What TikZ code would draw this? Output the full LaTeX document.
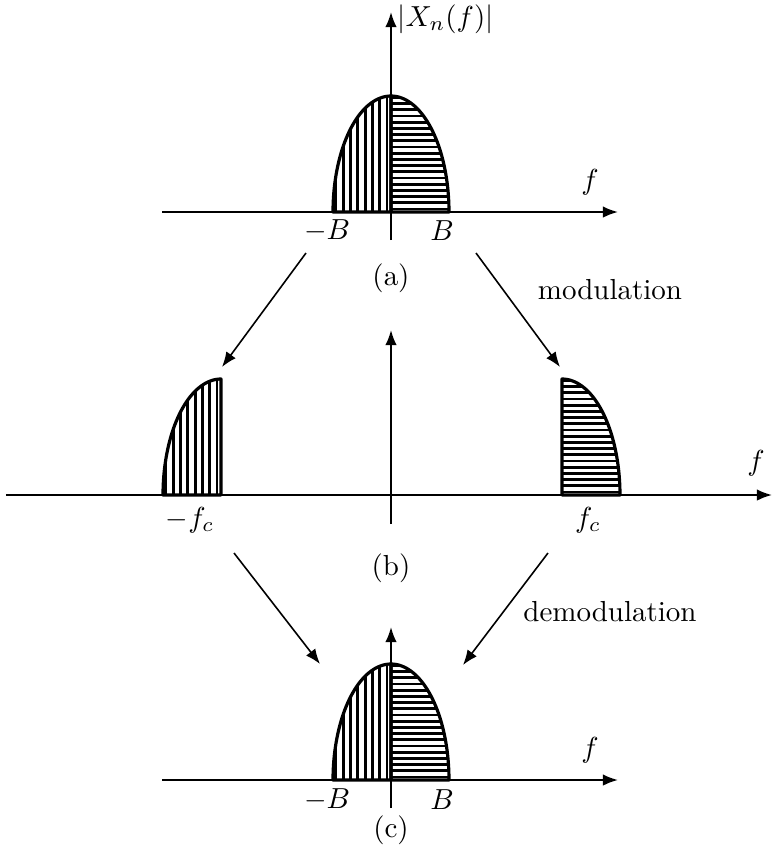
\documentclass[tikz,border=0pt]{standalone}
\usetikzlibrary{arrows.meta}
\newcommand\myLeftHalf[2]{% #1 = centre x, #2 = base y
  \begin{scope}
    \clip (#1-58,#2) -- plot[domain=180:90,samples=40] ({#1+58*cos(\x)},{#2-116*sin(\x)}) -- (#1,#2) -- cycle;
    \foreach \k in {0,...,8} \draw[hatch] ({#1-4-7.3*\k},#2) -- ++(0,-125);
  \end{scope}
  \draw[outline] (#1,#2) -- (#1-58,#2) -- plot[domain=180:90,samples=40] ({#1+58*cos(\x)},{#2-116*sin(\x)}) -- (#1,#2) -- cycle;
}
\newcommand\myRightHalf[2]{% #1 = centre x, #2 = base y
  \begin{scope}
    \clip (#1,#2) -- (#1,#2-116) -- plot[domain=90:0,samples=40] ({#1+58*cos(\x)},{#2-116*sin(\x)}) -- cycle;
    \foreach \k in {0,...,19} \draw[hatch] (#1,{#2-3-6.2*\k}) -- ++(62,0);
  \end{scope}
  \draw[outline] (#1,#2) -- (#1,#2-116) -- plot[domain=90:0,samples=40] ({#1+58*cos(\x)},{#2-116*sin(\x)}) -- cycle;
}
\begin{document}
\begin{tikzpicture}[x=0.345pt,y=-0.345pt,
  axis/.style={line width=0.7pt,-{Latex[length=5.2pt,width=4pt]}},
  conn/.style={line width=0.55pt,-{Latex[length=5.2pt,width=4pt]}},
  outline/.style={line width=1.1pt,line join=round},
  hatch/.style={line width=1pt},
  lbl/.style={inner sep=0pt}]
\useasboundingbox (0,0) rectangle (774,853);

% ---------- (a) ----------
\myLeftHalf{391}{212}
\myRightHalf{391}{212}
\coordinate (aL) at (162,212); \coordinate (aR) at (618,212);
\coordinate (aB) at (391,240); \coordinate (aT) at (391,12);
\draw[axis] (aL) -- (aR);
\draw[axis] (aB) -- (aT);
\node[lbl,anchor=west] (aY) at (397,19) {$|X_n(f)|$};
\node[lbl] (af) at (590,182) {$f$};
\node[lbl] (amB) at (327,231) {$-B$};
\node[lbl] (apB) at (442,231) {$B$};
\node[lbl] (acap) at (391,278) {(a)};

% ---------- (b) ----------
\myLeftHalf{221}{495}
\myRightHalf{562}{495}
\coordinate (bL) at (6,495); \coordinate (bR) at (772,495);
\coordinate (bB) at (391,524); \coordinate (bT) at (391,330);
\draw[axis] (bL) -- (bR);
\draw[axis] (bB) -- (bT);
\node[lbl] (bf) at (756,463) {$f$};
\node[lbl] (bmfc) at (190,520) {$-f_c$};
\node[lbl] (bpfc) at (588,520) {$f_c$};
\node[lbl] (bcap) at (391,568) {(b)};

% ---------- (c) ----------
\myLeftHalf{391}{780}
\myRightHalf{391}{780}
\coordinate (cL) at (162,780); \coordinate (cR) at (618,780);
\coordinate (cB) at (391,808); \coordinate (cT) at (391,627);
\draw[axis] (cL) -- (cR);
\draw[axis] (cB) -- (cT);
\node[lbl] (cf) at (590,750) {$f$};
\node[lbl] (cmB) at (327,800) {$-B$};
\node[lbl] (cpB) at (442,800) {$B$};
\node[lbl] (ccap) at (391,830) {(c)};

% ---------- connectors ----------
\coordinate (m1s) at (306,253); \coordinate (m1e) at (222,367);
\coordinate (m2s) at (476,253); \coordinate (m2e) at (560,367);
\coordinate (d1s) at (234,553); \coordinate (d1e) at (320,664);
\coordinate (d2s) at (548,553); \coordinate (d2e) at (463,665);
\draw[conn] (m1s) -- (m1e);
\draw[conn] (m2s) -- (m2e);
\draw[conn] (d1s) -- (d1e);
\draw[conn] (d2s) -- (d2e);
\node[lbl] (mod) at (610,290) {modulation};
\node[lbl] (demod) at (610,612) {demodulation};
\end{tikzpicture}
\end{document}
